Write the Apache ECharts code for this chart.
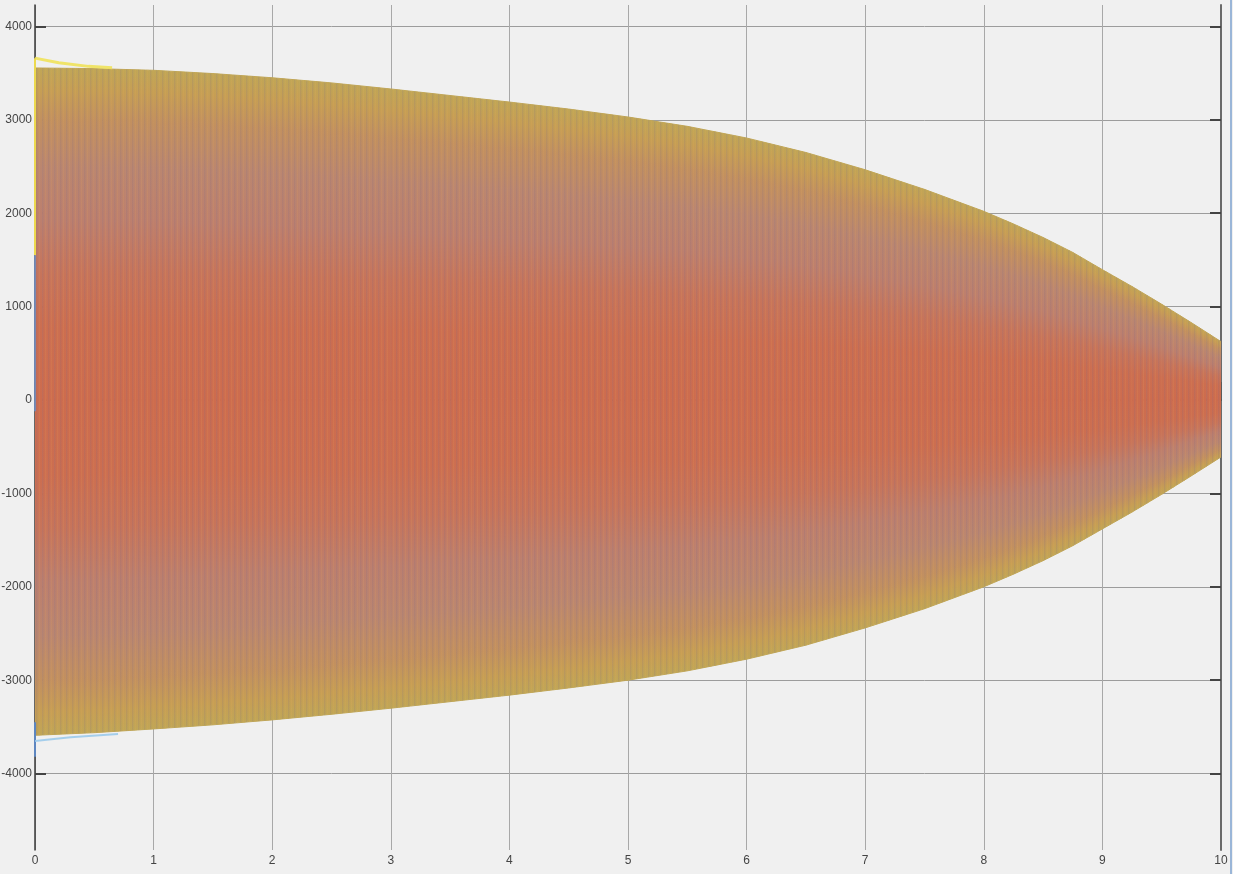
<!DOCTYPE html>
<html>
<head>
<meta charset="utf-8">
<script src="https://cdn.jsdelivr.net/npm/echarts@6/dist/echarts.min.js"></script>
<style>
html, body { margin: 0; padding: 0; background: #f0f0f0; }
#scope { width: 1233px; height: 874px; }
</style>
</head>
<body>
<div id="scope"></div>
<script>
// envelope of the dense oscillation
const times = [0, 0.5, 1, 1.5, 2, 2.5, 3, 3.5, 4, 4.5, 5, 5.5, 6, 6.5, 7, 7.5, 8, 8.25, 8.5, 8.75, 9, 9.25, 9.5, 9.75, 10]
const upper = [3555, 3548, 3530, 3495, 3450, 3395, 3330, 3260, 3190, 3115, 3030, 2930, 2805, 2650, 2465, 2255, 2020, 1885, 1740, 1580, 1395, 1215, 1025, 828, 625]
const lower = [-3590, -3562, -3522, -3478, -3425, -3365, -3300, -3230, -3160, -3083, -3000, -2900, -2775, -2625, -2440, -2235, -2000, -1865, -1720, -1560, -1380, -1200, -1010, -812, -610]

// start-up transient near t = 0
const yellowTop = [[0, 3660], [0.2, 3610], [0.45, 3572], [0.65, 3556]]
const yellowEdge = [[0, 3660], [0, 1550]]
const blueEdge = [[0, 1550], [0, -120]]
const blueEdgeLow = [[0, -3450], [0, -3820]]
const blueBottom = [[0, -3650], [0.3, -3612], [0.7, -3575]]

const xTicks = [0, 1, 2, 3, 4, 5, 6, 7, 8, 9, 10]
const yTicks = [-4000, -3000, -2000, -1000, 0, 1000, 2000, 3000, 4000]

const labelFont = 'Liberation Sans, Arial, sans-serif'

// thin vertical stripes of the individual traces
const stripes = document.createElement('canvas')
stripes.width = 6
stripes.height = 2
const sctx = stripes.getContext('2d')
sctx.fillStyle = 'rgba(110, 100, 140, 0.14)'
sctx.fillRect(0, 0, 1, 2)
sctx.fillStyle = 'rgba(110, 100, 140, 0.06)'
sctx.fillRect(1, 0, 1, 2)
sctx.fillStyle = 'rgba(235, 175, 80, 0.12)'
sctx.fillRect(3, 0, 1, 2)

const bandStops = [
  [0, '#c0a656'], [0.035, '#c69e54'], [0.08, '#c2905f'], [0.15, '#bb866f'],
  [0.23, '#bd7f6d'], [0.31, '#c7745a'], [0.39, '#cc6e50'], [0.5, '#cd6c4e']
]

function bandGradient () {
  const stops = []
  bandStops.forEach(s => stops.push({ offset: s[0], color: s[1] }))
  for (let k = bandStops.length - 2; k >= 0; k--) {
    stops.push({ offset: 1 - bandStops[k][0], color: bandStops[k][1] })
  }
  return new echarts.graphic.LinearGradient(0, 0, 0, 1, stops)
}

function renderBand (params, api) {
  const i = params.dataIndex
  if (i >= times.length - 1) return null
  const a = api.coord([times[i], upper[i]])
  const b = api.coord([times[i + 1], upper[i + 1]])
  const c = api.coord([times[i + 1], lower[i + 1]])
  const d = api.coord([times[i], lower[i]])
  // cut the segment into narrow slices so the shading follows the envelope
  const n = Math.max(1, Math.ceil((b[0] - a[0]) / 4))
  const children = []
  for (let k = 0; k < n; k++) {
    const f0 = k / n
    const f1 = (k + 1) / n
    const x0 = a[0] + (b[0] - a[0]) * f0
    const x1 = a[0] + (b[0] - a[0]) * f1
    children.push({
      type: 'polygon',
      shape: {
        points: [
          [x0, a[1] + (b[1] - a[1]) * f0],
          [x1, a[1] + (b[1] - a[1]) * f1],
          [x1, d[1] + (c[1] - d[1]) * f1],
          [x0, d[1] + (c[1] - d[1]) * f0]
        ]
      },
      style: { fill: bandGradient(), stroke: bandGradient(), lineWidth: 1 }
    })
  }
  children.push({ type: 'polygon', shape: { points: [a, b, c, d] }, style: { fill: { image: stripes, repeat: 'repeat' } } })
  return { type: 'group', children: children }
}

function edgeLine (data, color, width) {
  return {
    type: 'line',
    data: data,
    symbol: 'none',
    silent: true,
    z: 5,
    lineStyle: { color: color, width: width }
  }
}

const myChart = echarts.init(document.getElementById('scope'))
myChart.setOption({
  backgroundColor: '#f0f0f0',
  animation: false,
  grid: { left: 35, right: 12, top: 5, bottom: 24, containLabel: false, outerBoundsMode: 'none' },
  xAxis: {
    type: 'value',
    min: 0,
    max: 10,
    interval: 1,
    axisLine: { lineStyle: { color: '#3a3a3a', width: 1.5 } },
    axisTick: { inside: true, length: 18, lineStyle: { color: '#555', width: 1.5 } },
    axisLabel: {
      color: '#444',
      fontFamily: labelFont,
      fontSize: 12,
      margin: 5,
      formatter: v => (xTicks.indexOf(v) >= 0 ? String(v) : '')
    },
    splitLine: { show: true, lineStyle: { color: '#a8a8a8', width: 1 } }
  },
  yAxis: [
    {
      type: 'value',
      min: -4818,
      max: 4229,
      axisLine: { show: true, lineStyle: { color: '#3a3a3a', width: 1.5 } },
      axisTick: { inside: true, length: 11, customValues: yTicks, lineStyle: { color: '#444', width: 2 } },
      axisLabel: {
        color: '#444',
        fontFamily: labelFont,
        fontSize: 12,
        margin: 3,
        customValues: yTicks,
        formatter: v => String(v)
      },
      splitLine: { show: true, lineStyle: { color: '#9c9c9c', width: 1 } }
    },
    {
      type: 'value',
      position: 'right',
      min: -4818,
      max: 4229,
      axisLine: { show: true, lineStyle: { color: '#6a6a6a', width: 2 } },
      axisTick: { inside: true, length: 11, customValues: yTicks, lineStyle: { color: '#444', width: 2 } },
      axisLabel: { show: false },
      splitLine: { show: false }
    }
  ],
  graphic: [
    { type: 'rect', shape: { x: 1230, y: 0, width: 2, height: 874 }, style: { fill: '#9ab6d8' }, silent: true }
  ],
  series: [
    {
      type: 'custom',
      renderItem: renderBand,
      data: times.map((t, i) => [t, upper[i], lower[i]]),
      encode: { x: 0, y: [1, 2] },
      clip: true,
      silent: true,
      z: 3
    },
    edgeLine(yellowTop, 'rgba(240, 226, 90, 0.9)', 3),
    edgeLine(yellowEdge, '#ecd94e', 2),
    edgeLine(blueEdge, 'rgba(110, 140, 190, 0.85)', 2),
    edgeLine(blueEdgeLow, '#5d86c0', 2),
    edgeLine(blueBottom, 'rgba(150, 200, 235, 0.85)', 2)
  ]
})
</script>
</body>
</html>
